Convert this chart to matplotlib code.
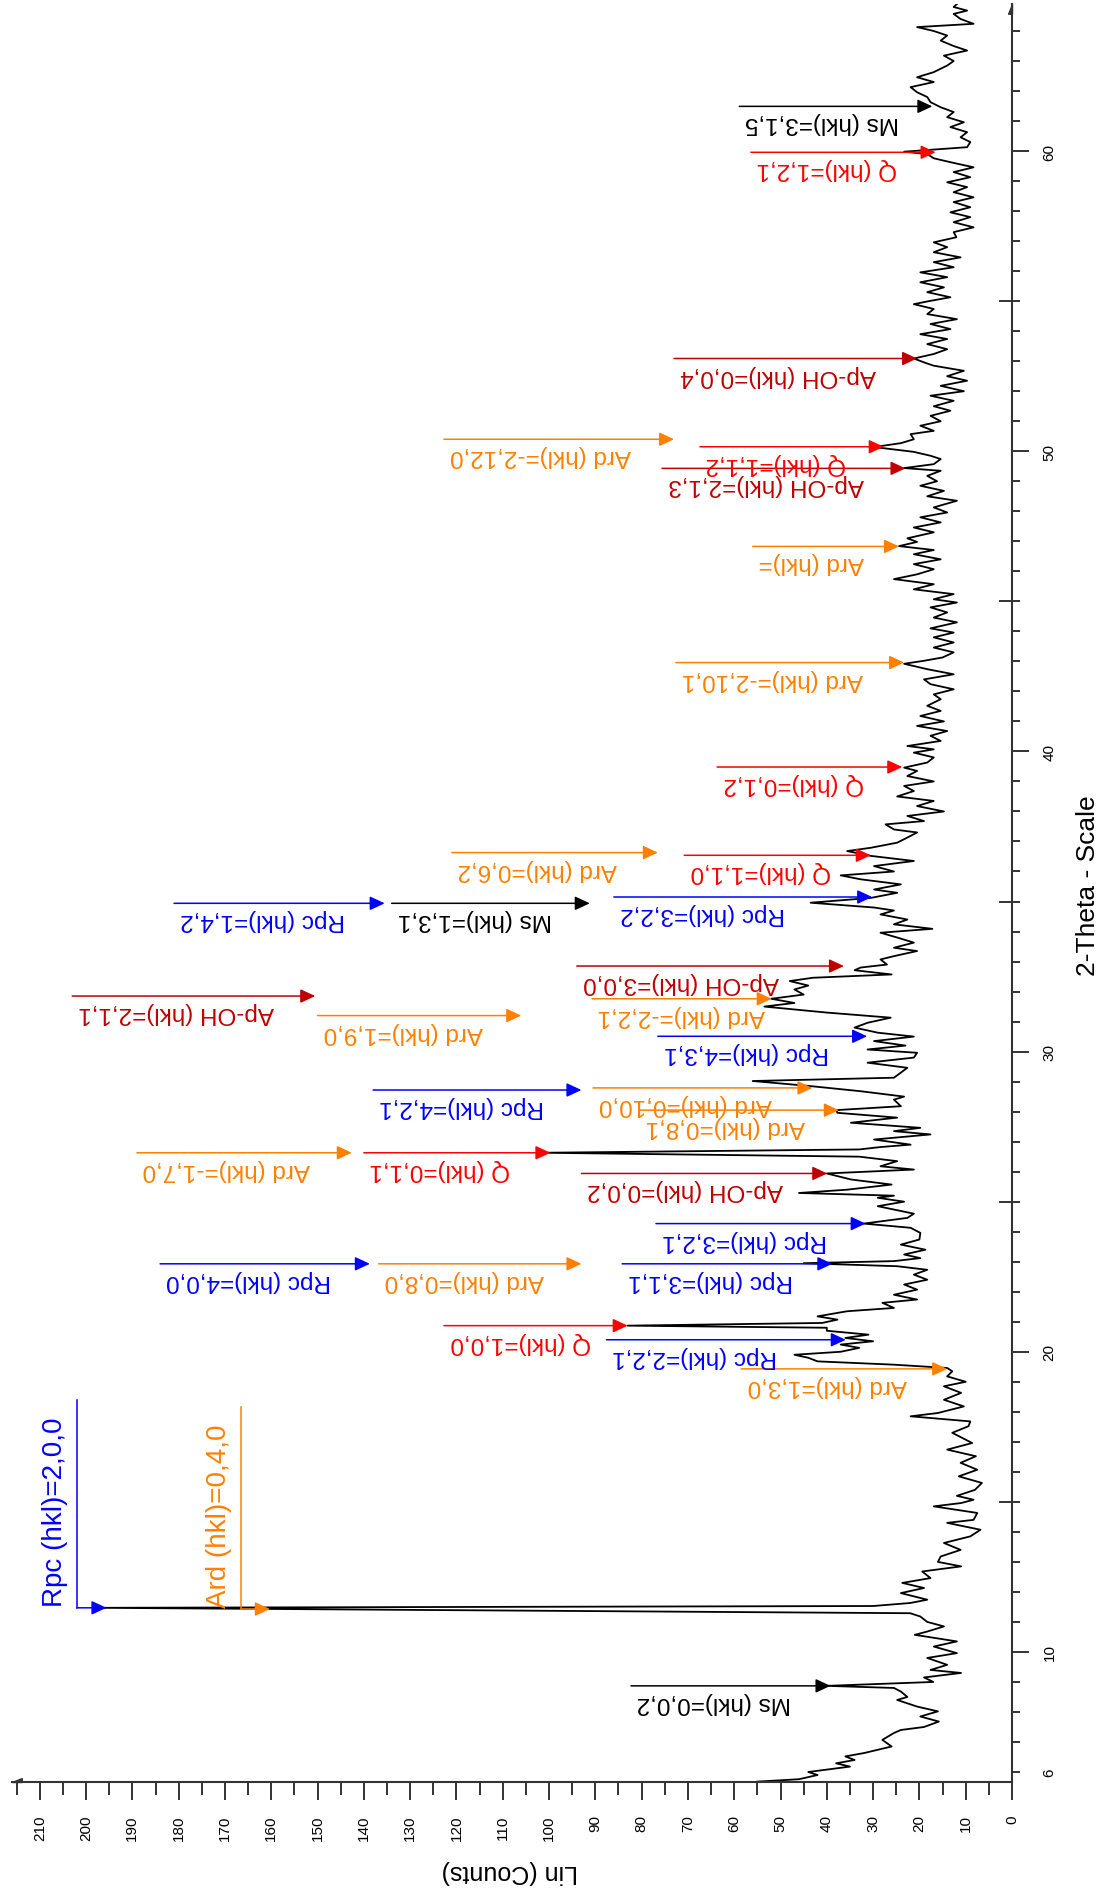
import matplotlib.pyplot as plt
from matplotlib.path import Path
from matplotlib.transforms import offset_copy

plt.rcParams['font.family'] = ['Liberation Sans', 'DejaVu Sans']

# XRD pattern (2-theta, Lin counts)
two_theta = [5.68, 5.76, 5.90, 6.00, 6.18, 6.29, 6.40, 6.52, 6.63, 6.85, 7.07, 7.30, 7.40, 7.50, 7.68, 7.85,
             8.02, 8.18, 8.40, 8.50, 8.68, 8.80, 8.87, 9.00, 9.15, 9.30, 9.40, 9.57, 9.80, 9.96, 10.18, 10.35,
             10.57, 10.68, 10.85, 11.00, 11.18, 11.29, 11.47, 11.53, 11.63, 11.74, 11.96, 12.13, 12.30, 12.46,
             12.68, 12.85, 13.00, 13.18, 13.40, 13.63, 13.85, 14.07, 14.30, 14.40, 14.63, 14.85, 14.96, 15.07,
             15.20, 15.40, 15.63, 15.85, 16.07, 16.30, 16.52, 16.74, 16.96, 17.15, 17.30, 17.52, 17.68, 17.85,
             17.96, 18.18, 18.40, 18.63, 18.85, 19.00, 19.18, 19.35, 19.46, 19.57, 19.68, 19.80, 19.90, 20.00,
             20.13, 20.24, 20.35, 20.46, 20.57, 20.70, 20.80, 20.87, 20.96, 21.07, 21.18, 21.35, 21.46, 21.63,
             21.74, 21.90, 22.07, 22.24, 22.40, 22.57, 22.73, 22.85, 22.95, 23.02, 23.12, 23.24, 23.40, 23.57,
             23.74, 23.96, 24.13, 24.27, 24.46, 24.60, 24.85, 25.00, 25.13, 25.20, 25.29, 25.40, 25.57, 25.74,
             25.94, 26.07, 26.18, 26.35, 26.50, 26.63, 26.74, 26.82, 26.90, 27.07, 27.24, 27.35, 27.46, 27.63,
             27.80, 27.96, 28.05, 28.18, 28.40, 28.50, 28.68, 28.85, 29.02, 29.13, 29.30, 29.46, 29.63, 29.80,
             29.96, 30.07, 30.20, 30.35, 30.50, 30.63, 30.80, 30.96, 31.13, 31.30, 31.50, 31.62, 31.76, 31.90,
             32.07, 32.20, 32.35, 32.46, 32.57, 32.71, 32.80, 32.90, 33.07, 33.18, 33.35, 33.46, 33.63, 33.80,
             33.96, 34.09, 34.24, 34.40, 34.57, 34.70, 34.80, 34.96, 35.12, 35.29, 35.40, 35.57, 35.74, 35.87,
             36.00, 36.18, 36.35, 36.52, 36.68, 36.79, 36.96, 37.13, 37.30, 37.40, 37.57, 37.68, 37.85, 38.00,
             38.18, 38.35, 38.50, 38.68, 38.85, 39.00, 39.18, 39.35, 39.46, 39.63, 39.80, 39.96, 40.07, 40.18,
             40.35, 40.52, 40.68, 40.85, 41.00, 41.18, 41.35, 41.52, 41.74, 41.90, 42.07, 42.24, 42.40, 42.57,
             42.74, 42.92, 43.02, 43.13, 43.30, 43.46, 43.63, 43.80, 43.96, 44.10, 44.30, 44.46, 44.63, 44.80,
             44.96, 45.07, 45.24, 45.40, 45.57, 45.74, 45.90, 46.07, 46.24, 46.40, 46.57, 46.71, 46.84, 46.98,
             47.10, 47.30, 47.46, 47.63, 47.80, 47.96, 48.13, 48.35, 48.50, 48.68, 48.85, 49.00, 49.18, 49.35,
             49.44, 49.57, 49.74, 49.85, 49.98, 50.14, 50.27, 50.40, 50.57, 50.68, 50.85, 51.00, 51.18, 51.35,
             51.50, 51.68, 51.85, 52.00, 52.18, 52.35, 52.50, 52.68, 52.85, 52.96, 53.09, 53.24, 53.40, 53.57,
             53.74, 53.90, 54.07, 54.24, 54.40, 54.57, 54.74, 54.90, 55.00, 55.13, 55.30, 55.46, 55.63, 55.80,
             55.96, 56.13, 56.30, 56.46, 56.63, 56.80, 56.96, 57.13, 57.30, 57.46, 57.63, 57.80, 57.96, 58.13,
             58.30, 58.46, 58.63, 58.80, 58.96, 59.13, 59.30, 59.46, 59.63, 59.76, 59.90, 59.98, 60.13, 60.30,
             60.46, 60.63, 60.80, 60.96, 61.13, 61.30, 61.46, 61.63, 61.80, 61.96, 62.13, 62.30, 62.46, 62.63,
             62.85, 63.00, 63.18, 63.35, 63.50, 63.68, 63.85, 64.00, 64.13, 64.24, 64.40, 64.57, 64.68, 64.80,
             64.90]
counts = [55, 46, 42, 44, 35, 38, 34, 36, 32, 26, 28, 25.5, 24, 19, 15.8, 19.8,
          16, 20.5, 24.8, 22.6, 24, 25.5, 40, 17, 19, 11, 17.6, 14, 18.3, 11.9, 16.9, 11.9,
          21, 18.3, 14.7, 18.3, 19.8, 22, 197, 30, 22, 18.3, 24, 19, 23.7, 17.6,
          19.4, 11, 16, 15.4, 11.1, 14.7, 9, 6.8, 14, 8.3, 7.5, 16.9, 11, 8.3,
          11.9, 8, 6.5, 11.5, 7.5, 11.1, 7.8, 14, 8.6, 11, 12.9, 9.4, 9, 21.9,
          16, 10.4, 14.7, 11, 14.7, 10, 14, 12.9, 14, 25.5, 42, 44, 47, 37,
          33, 37, 30, 36, 31, 40, 40, 83, 41, 37.7, 42, 35.6, 25.5, 28,
          20.5, 25.5, 20.5, 23.3, 18.3, 21.2, 18.3, 24.8, 45, 25.5, 19.8, 23.3, 18.7, 24,
          20, 19.8, 21.9, 32, 22.6, 21.2, 29, 23.3, 29, 25.5, 46, 35.6, 26, 34.8,
          40, 21.2, 28.4, 24.8, 33, 101, 33, 28.4, 21.9, 29.8, 17.6, 25.5, 19.8, 34.8,
          24.8, 37.7, 38, 24, 25.5, 23.3, 32.7, 43.5, 56, 25.5, 24, 22.6, 31.2, 21.2,
          20.5, 31.2, 23, 29.8, 21.2, 29, 34, 31.2, 26.2, 40, 53.5, 47, 52, 45,
          47, 44, 48, 43, 26, 34, 32.7, 27, 28.4, 25.5, 20.5, 25.5, 21.2, 24.8,
          28.4, 17.2, 25.5, 22.6, 28.4, 25.5, 29.8, 43.5, 30.5, 24.8, 29.8, 24, 32.7, 37,
          25.5, 29.8, 21.2, 30.5, 35.6, 30.5, 24.8, 22.6, 20.5, 25.5, 27.3, 19, 22.6, 14.7,
          20.5, 16.9, 24.8, 21.2, 23.3, 16.9, 22.6, 20.5, 23.3, 18.3, 16.9, 21.2, 16.9, 22.6,
          15.4, 17.6, 14, 20.5, 14.7, 19.8, 15.4, 18.3, 15.4, 16.9, 12.6, 17.6, 19, 12.6,
          18.3, 23.3, 19, 15, 12.6, 16.9, 12.6, 16.9, 12.6, 17.6, 11.9, 16.9, 14, 17.6,
          11.9, 16.9, 12.6, 21.2, 16.9, 25.5, 20.5, 16.9, 21.2, 15.4, 21.2, 16.9, 24.4, 20.5,
          22.6, 16.9, 21.2, 15.4, 19.8, 14, 16.9, 11.9, 18.3, 14.7, 19.8, 16.2, 18.3, 15.4,
          23.3, 16.9, 15.4, 17.6, 21.2, 29.8, 24, 21.2, 21.9, 16.9, 19.8, 15.4, 17.6, 13.3,
          16.9, 12.6, 17.6, 10.4, 15.4, 9.7, 14, 10.4, 16.9, 19, 21.2, 16.9, 14, 18.3,
          14, 19.8, 13.3, 17.6, 11.9, 18.3, 16.9, 21.2, 18, 13.3, 18.3, 14.7, 19.8, 14,
          19.8, 12.6, 16.9, 11.1, 16.9, 14, 16.9, 12, 12.6, 8.3, 12.6, 9, 13.3, 9,
          12.6, 8.3, 12.6, 9.7, 14, 9, 12.6, 8.3, 13.3, 16.9, 18.3, 23.3, 9.7, 9,
          11.1, 9.7, 13.3, 10.4, 14, 12.6, 15.4, 17.6, 18.3, 20.5, 21.9, 16.9, 20.5, 16.9,
          14, 12.6, 14.7, 9.7, 12.6, 15.4, 14, 16.9, 20.5, 8.3, 11.1, 12.6, 9.7, 12.6,
          11.9]

# peak markers: label, 2-theta, counts at arrow head, counts at arrow tail
peak_labels = ['Ms (hkl)=0,0,2', 'Ard (hkl)=1,3,0', 'Rpc (hkl)=2,2,1', 'Q (hkl)=1,0,0', 'Rpc (hkl)=3,1,1',
               'Ard (hkl)=0,8,0', 'Rpc (hkl)=4,0,0', 'Rpc (hkl)=3,2,1', 'Ap-OH (hkl)=0,0,2', 'Q (hkl)=0,1,1',
               'Ard (hkl)=-1,7,0', 'Ard (hkl)=0,8,1', 'Ard (hkl)=0,10,0', 'Rpc (hkl)=4,2,1', 'Rpc (hkl)=4,3,1',
               'Ard (hkl)=1,9,0', 'Ard (hkl)=-2,2,1', 'Ap-OH (hkl)=2,1,1', 'Ap-OH (hkl)=3,0,0', 'Rpc (hkl)=3,2,2',
               'Ms (hkl)=1,3,1', 'Rpc (hkl)=1,4,2', 'Q (hkl)=1,1,0', 'Ard (hkl)=0,6,2', 'Q (hkl)=0,1,2',
               'Ard (hkl)=-2,10,1', 'Ard (hkl)=', 'Ap-OH (hkl)=2,1,3', 'Q (hkl)=1,1,2', 'Ard (hkl)=-2,12,0',
               'Ap-OH (hkl)=0,0,4', 'Q (hkl)=1,2,1', 'Ms (hkl)=3,1,5']
peak_pos = [8.87, 19.43, 20.40, 20.87, 22.93, 22.93, 22.93, 24.27, 25.94, 26.63,
            26.63, 28.05, 28.79, 28.72, 30.51, 31.20, 31.76, 31.85, 32.85, 35.15,
            34.94, 34.94, 36.54, 36.63, 39.48, 42.96, 46.83, 49.43, 50.15, 50.40,
            53.09, 59.96, 61.49]
peak_tip = [39.2, 14, 35.9, 83, 38.8, 93, 138.7, 31.6, 39.9, 99.7,
            142.6, 37.4, 43.1, 93, 31.3, 106, 51.9, 150.5, 36.3, 30.2,
            91.2, 135.5, 30.5, 76.5, 23.7, 23.3, 24.4, 23, 27.7, 73,
            20.5, 16.5, 17.2]
peak_tail = [82.3, 58.5, 87.6, 122.7, 84.2, 136.8, 184, 76.9, 93, 140,
             189, 80.5, 90.5, 138, 76.5, 150, 90.7, 203, 94, 86,
             134, 181, 70.8, 121, 63.7, 72.6, 56, 75.6, 67.4, 122.7,
             73, 56.4, 58.9]

# the two markers on the big 11.5 deg peak have a leader line
lead_labels = ['Rpc (hkl)=2,0,0', 'Ard (hkl)=0,4,0']
lead_pos = [11.47, 11.43]
lead_tip = [195.6, 160.3]
lead_corner = [202, 166.5]
lead_top = [18.4, 18.17]

phase_color = {'Rpc': '#0000ff', 'Ard': '#ff8000', 'Q': '#ff0000', 'Ap-OH': '#c00000', 'Ms': '#000000'}
axis_col = '#333333'

fig = plt.figure(figsize=(11.02, 18.9), dpi=100)
ax = fig.add_axes([12 / 1102, 1 - 1783 / 1890, 1000 / 1102, 1778 / 1890])

ax.plot(counts, two_theta, color='black', lw=1.3)
ax.set_xlim(216, 0)
ax.set_ylim(5.667, 64.9)

for s in ['top', 'left']:
    ax.spines[s].set_visible(False)
for s in ['right', 'bottom']:
    ax.spines[s].set_color(axis_col)
    ax.spines[s].set_linewidth(1.5)

# counts axis (bottom)
ax.set_xticks(range(0, 211, 10))
ax.set_xticks(range(5, 216, 10), minor=True)
ax.tick_params(axis='x', which='major', direction='out', length=13.3, width=1.4, color=axis_col,
               pad=10, labelsize=11, labelrotation=90)
ax.tick_params(axis='x', which='minor', direction='out', length=9.4, width=1.4, color=axis_col)

# 2-theta axis (right)
ax.yaxis.tick_right()
ax.set_yticks([6, 10, 20, 30, 40, 50, 60])
ax.set_yticks(range(6, 65), minor=True)
ax.tick_params(axis='y', which='major', direction='out', length=12, width=1.4, color=axis_col,
               pad=10, labelsize=11, labelrotation=90)
ax.tick_params(axis='y', which='minor', direction='out', length=5.5, width=1.4, color=axis_col)
ax.yaxis.get_major_ticks()[0].tick2line.set_markersize(5.5)
for t in ax.get_yticklabels():
    t.set_va('center')
ax.plot([1] * 5, [15, 25, 35, 45, 55], transform=ax.get_yaxis_transform(), ls='none',
        marker=0, ms=9.6, mew=1.4, color=axis_col, clip_on=False)

# half arrow heads at the axis ends
left_head = Path([(0, 0), (1, 0), (1, 0.4), (0, 0)])
top_head = Path([(0, 0), (0, -1), (-0.4, -1), (0, 0)])
ax.plot(0, 0, transform=ax.transAxes, marker=left_head, ms=14, color=axis_col, clip_on=False)
ax.plot(1, 1, transform=ax.transAxes, marker=top_head, ms=14, color=axis_col, clip_on=False)

fig.text(510 / 1102, 1 - 1872 / 1890, 'Lin (Counts)', rotation=180, ha='center', va='center', fontsize=18)
fig.text(1088 / 1102, 1 - 886 / 1890, '2-Theta - Scale', rotation=90, ha='center', va='center', fontsize=19)

arrow = '-|>,head_length=0.45,head_width=0.21'
txt_tr = offset_copy(ax.transData, fig=fig, x=6, y=-5, units='dots')
for lab, pos, tip, tail in zip(peak_labels, peak_pos, peak_tip, peak_tail):
    c = phase_color[lab.split(' ')[0]]
    ax.annotate('', xy=(tip, pos), xytext=(tail, pos),
                arrowprops=dict(arrowstyle=arrow, mutation_scale=20, color=c, lw=1.1, shrinkA=0, shrinkB=0))
    ax.text(tail, pos, lab, color=c, fontsize=17.5, rotation=180, ha='left', va='top', transform=txt_tr)

lead_tr = offset_copy(ax.transData, fig=fig, x=-9, y=2, units='dots')
for lab, pos, tip, corner, top in zip(lead_labels, lead_pos, lead_tip, lead_corner, lead_top):
    c = phase_color[lab.split(' ')[0]]
    ax.plot([corner, corner], [pos, top], color=c, lw=1.1)
    ax.annotate('', xy=(tip, pos), xytext=(corner, pos),
                arrowprops=dict(arrowstyle=arrow, mutation_scale=20, color=c, lw=1.1, shrinkA=0, shrinkB=0))
    ax.text(corner, pos, lab, color=c, fontsize=20, rotation=90, ha='right', va='bottom', transform=lead_tr)

fig.savefig('out.png', dpi=100)
